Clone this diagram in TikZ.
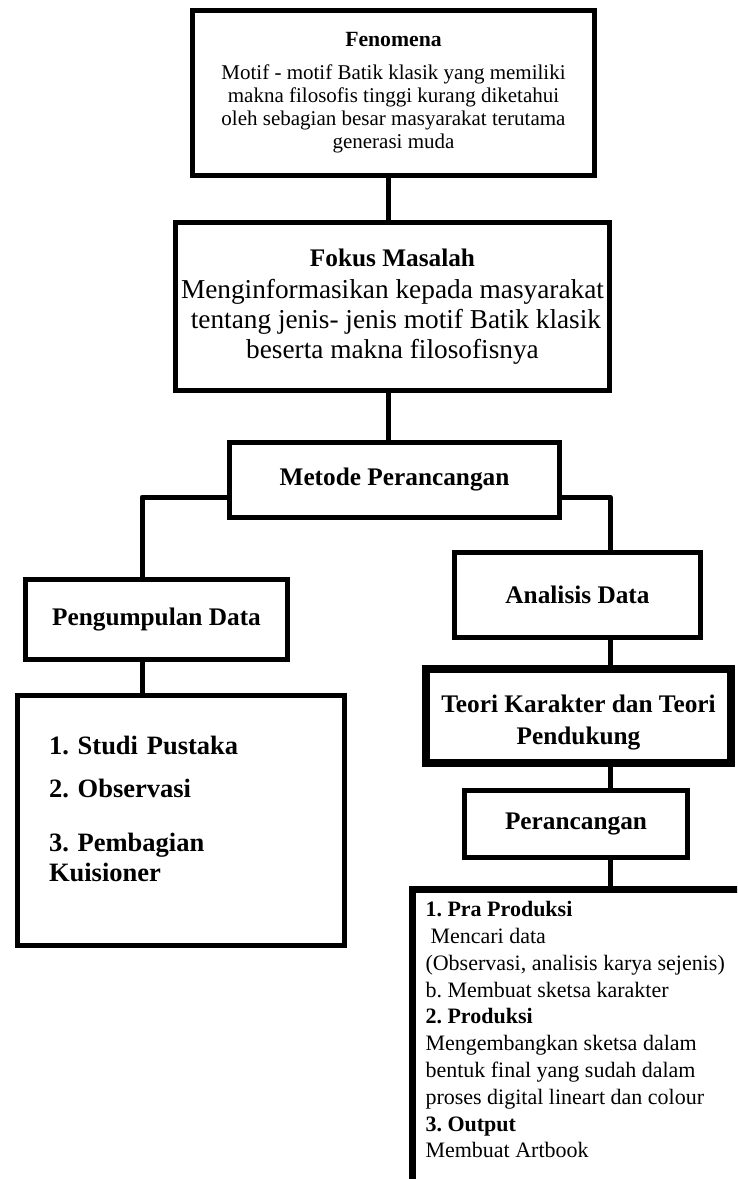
\documentclass[tikz,border=0pt]{standalone}
\usepackage{fontspec}
\setmainfont{Liberation Serif}
\usetikzlibrary{positioning}
\frenchspacing

\begin{document}
\begin{tikzpicture}[x=1pt,y=1pt]

\tikzset{box/.style = {draw, line width=5pt, align=center, inner sep=0pt}}
\tikzset{link/.style = {line width=5pt, line join=round}}
\tikzset{title/.style = {font={\fontsize{25.3}{30}\selectfont\bfseries}}}

\useasboundingbox (0,0) rectangle (737,-1179);
\clip (0,0) rectangle (737,-1179);

% boxes
\node[box, minimum width=402pt, minimum height=165pt, font={\fontsize{21}{23}\selectfont}] (fen) at (393.5,-93)
  {{\fontsize{21.7}{23}\selectfont\bfseries Fenomena}\\[10pt]
   Motif - motif Batik klasik yang memiliki\\
   makna filosofis tinggi kurang diketahui\\
   oleh sebagian besar masyarakat terutama\\
   generasi muda};
\node[box, minimum width=434pt, minimum height=168pt, font={\fontsize{27.3}{30}\selectfont}] (fok) at (392.5,-306.5)
  {{\fontsize{25.3}{30}\selectfont\bfseries Fokus Masalah}\\[2pt]
   Menginformasikan kepada masyarakat\\
   \ tentang jenis- jenis motif Batik klasik\\
   beserta makna filosofisnya};
\node[box, title, minimum width=330pt, minimum height=75pt] (met) at (394.5,-480) {Metode Perancangan};
\node[box, title, minimum width=262pt, minimum height=80pt] (pdata) at (156.5,-619.5) {Pengumpulan Data};
\node[box, minimum width=327pt, minimum height=250pt, text width=264pt, align=left,
      font={\fontsize{26.5}{30}\selectfont\bfseries}] (dlist) at (181,-820.5)
  {1. Studi Pustaka\\[13pt]
   2. Observasi\\[24pt]
   3. Pembagian\\
   Kuisioner\rule[-23pt]{0pt}{0pt}};
\node[box, title, line width=8pt, minimum width=305pt, minimum height=94pt] (teori) at (578.5,-716)
  {\rule{0pt}{30pt}Teori Karakter dan Teori\\[2pt] Pendukung};
\node[box, title, minimum width=246pt, minimum height=85pt] (adata) at (577.5,-595) {Analisis Data};
\node[box, title, minimum width=223pt, minimum height=67pt] (perc) at (576,-824) {Perancangan};
\node[draw, line width=7pt, anchor=north west, inner xsep=13.5pt, inner ysep=12.5pt] (out) at (408.5,-885.5)
  {\parbox[c][330pt][t]{340pt}{\raggedright\fontsize{22}{26.8}\selectfont
   \textbf{1. Pra Produksi}\\
   \hspace*{5pt}Mencari data\\
   (Observasi, analisis karya sejenis)\\
   b. Membuat sketsa karakter\\
   \textbf{2. Produksi}\\
   Mengembangkan sketsa dalam\\
   bentuk final yang sudah dalam\\
   proses digital lineart dan colour\\
   \textbf{3. Output}\\
   Membuat Artbook}};

% links
\coordinate (spine) at (388,-300);
\coordinate (lbr) at (142,-497);
\coordinate (rbr) at (610,-497);
\draw[link] (fen.south -| spine) -- (spine |- fok.north);
\draw[link] (fok.south -| spine) -- (spine |- met.north);
\draw[link] (met.west |- lbr) -- (lbr) -- (lbr |- pdata.north);
\draw[link] (pdata.south -| lbr) -- (lbr |- dlist.north);
\draw[link] (met.east |- rbr) -- (rbr) -- (rbr |- adata.north);
\draw[link] (adata.south -| rbr) -- (rbr |- teori.north);
\draw[link] (teori.south -| rbr) -- (rbr |- perc.north);
\draw[link] (perc.south -| rbr) -- (rbr |- out.north);
\end{tikzpicture}
\end{document}
